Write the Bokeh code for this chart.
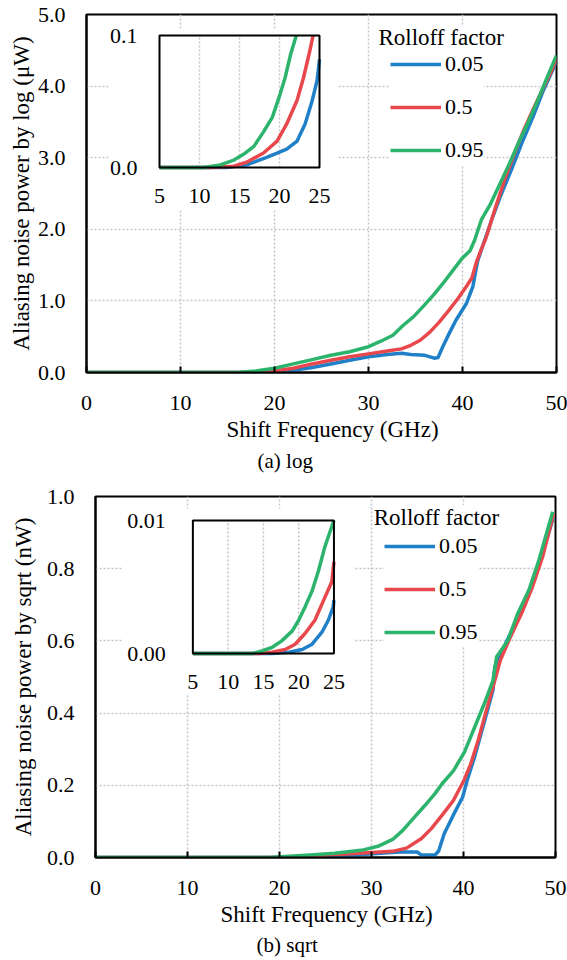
from bokeh.plotting import figure
from bokeh.models import Range1d, FixedTicker, PrintfTickFormatter, Legend, LegendItem, Label, Title
from bokeh.core.properties import value
from bokeh.embed import file_html
from bokeh.resources import INLINE

FONT = "Liberation Serif"

# ---------------- data ----------------
rolloff_labels = ["0.05", "0.5", "0.95"]
colors = ["#1f80c8", "#e8474c", "#2db46c"]

x_ticks = [0, 10, 20, 30, 40, 50]
inset_x_ticks = [5, 10, 15, 20, 25]
inset_x_tick_labels = ["5", "10", "15", "20", "25"]

# (a) log, main chart, power in uW
log_x_005 = [0, 21, 22, 24, 26, 28, 30, 32, 33.5, 34.5, 36, 37, 37.4, 37.9, 38.6, 39.3, 40.4, 41.1, 41.6, 42.1, 43.1, 44, 45.2, 46.3, 47.5, 48.6, 50]
log_y_005 = [0, 0, 0.03, 0.07, 0.12, 0.17, 0.22, 0.25, 0.27, 0.25, 0.24, 0.2, 0.21, 0.36, 0.55, 0.73, 0.96, 1.2, 1.55, 1.75, 2.13, 2.45, 2.83, 3.2, 3.57, 3.94, 4.34]
log_x_05 = [0, 19, 20, 22, 24, 26, 28, 30, 32, 33.5, 34.5, 35.5, 36.5, 37.5, 38.5, 39.5, 40.5, 41, 41.5, 42, 42.5, 43.5, 44.5, 45.5, 46.5, 47.5, 48.5, 49.5, 50]
log_y_05 = [0, 0, 0.02, 0.06, 0.12, 0.17, 0.22, 0.26, 0.3, 0.33, 0.38, 0.45, 0.56, 0.7, 0.86, 1.03, 1.22, 1.32, 1.55, 1.72, 1.88, 2.3, 2.7, 3.05, 3.38, 3.67, 3.95, 4.22, 4.38]
log_x_095 = [0, 16, 18, 20, 22, 24, 26, 28, 30, 31.2, 32.6, 33.7, 34.8, 35.8, 36.9, 37.9, 39, 40, 40.8, 41.3, 42, 43, 44, 45, 46, 47, 48, 49, 50]
log_y_095 = [0, 0, 0.02, 0.06, 0.12, 0.18, 0.24, 0.29, 0.36, 0.43, 0.52, 0.66, 0.78, 0.92, 1.08, 1.24, 1.43, 1.6, 1.7, 1.85, 2.13, 2.36, 2.64, 2.92, 3.22, 3.5, 3.8, 4.12, 4.43]

# (a) log, inset (5-25 GHz)
log_in_x_005 = [5, 13.4, 15.9, 18.4, 20.9, 22.2, 23.2, 24.1, 24.7, 25]
log_in_y_005 = [0, 0, 0.002, 0.0076, 0.014, 0.020, 0.033, 0.051, 0.066, 0.082]
log_in_x_05 = [5, 11.3, 14.3, 15.9, 18, 19.7, 20.9, 22.2, 23, 23.7, 24.2]
log_in_y_05 = [0, 0, 0.001, 0.004, 0.011, 0.020, 0.033, 0.051, 0.068, 0.086, 0.1]
log_in_x_095 = [5, 10.5, 12.6, 14.3, 15.5, 16.8, 18, 19.1, 20.1, 20.7, 21.4, 22.1]
log_in_y_095 = [0, 0, 0.002, 0.0056, 0.010, 0.016, 0.027, 0.038, 0.056, 0.068, 0.086, 0.1]
log_y_ticks = [0, 1, 2, 3, 4, 5]
log_in_y_ticks = [0, 0.1]
log_in_y_tick_labels = ["0.0", "0.1"]

# (b) sqrt, main chart, power in nW
sqrt_x_005 = [0, 26, 29, 33, 35, 35.4, 36.9, 37.3, 37.9, 38.9, 39.9, 40.4, 41.2, 42.2, 43.2, 43.4, 44.4, 45.6, 46.7, 47.9, 49.8]
sqrt_y_005 = [0, 0, 0.008, 0.015, 0.015, 0.007, 0.007, 0.018, 0.066, 0.118, 0.167, 0.214, 0.278, 0.37, 0.463, 0.528, 0.583, 0.648, 0.713, 0.787, 0.944]
sqrt_x_05 = [0, 19.8, 23, 27.2, 30, 32.3, 33.8, 35.4, 36.5, 37.7, 38.9, 40.1, 40.8, 41.6, 42.4, 43.4, 44, 45.1, 46.3, 47.5, 48.6, 49.8]
sqrt_y_05 = [0, 0, 0.004, 0.01, 0.014, 0.017, 0.026, 0.052, 0.08, 0.118, 0.158, 0.216, 0.26, 0.325, 0.4, 0.49, 0.546, 0.611, 0.676, 0.75, 0.833, 0.953]
sqrt_x_095 = [0, 18.8, 23.3, 26, 29.1, 30.7, 32.3, 33.4, 34.6, 35.8, 36.9, 37.7, 38.9, 40.1, 41.2, 42.4, 43.2, 43.6, 44.8, 45.9, 47.1, 48.2, 49.7]
sqrt_y_095 = [0, 0, 0.007, 0.012, 0.021, 0.031, 0.05, 0.075, 0.11, 0.144, 0.177, 0.205, 0.24, 0.292, 0.36, 0.435, 0.49, 0.556, 0.60, 0.676, 0.74, 0.824, 0.958]

# (b) sqrt, inset (5-25 GHz)
sqrt_in_x_005 = [5, 16.2, 18.6, 20.5, 21.9, 23.3, 24.2, 24.9, 25]
sqrt_in_y_005 = [0, 0, 0.0001, 0.0003, 0.0007, 0.0016, 0.0025, 0.0035, 0.004]
sqrt_in_x_05 = [5, 14.4, 16.2, 18.1, 19.5, 20.9, 22.3, 23.7, 24.7, 25]
sqrt_in_y_05 = [0, 0, 0.0001, 0.0003, 0.0007, 0.0015, 0.0025, 0.0042, 0.0054, 0.0069]
sqrt_in_x_095 = [5, 13.4, 14.8, 16.2, 17.6, 19.1, 20, 20.9, 21.9, 22.8, 23.7, 24.4, 25]
sqrt_in_y_095 = [0, 0, 0.0002, 0.00045, 0.00095, 0.0017, 0.0025, 0.0035, 0.0047, 0.0062, 0.008, 0.0091, 0.01]
sqrt_y_ticks = [0, 0.2, 0.4, 0.6, 0.8, 1.0]
sqrt_in_y_ticks = [0, 0.01]
sqrt_in_y_tick_labels = ["0.00", "0.01"]

GRID_COLOR = "#c4c4cc"
GRID_DASH = "2 2"


def build(cfg):
    W, H = 567, 480
    fl, ft, fw, fh = cfg["frame"]
    xr, yr = cfg["xrange"], cfg["yrange"]
    p = figure(width=W, height=H, x_range=Range1d(*xr), y_range=Range1d(*yr),
               output_backend="svg", toolbar_location=None,
               min_border_left=fl, min_border_top=ft,
               min_border_right=W - fl - fw, min_border_bottom=H - ft - fh)
    p.background_fill_color = "white"
    p.border_fill_color = "white"
    p.outline_line_color = "black"
    p.outline_line_width = 2

    def xd(px):
        return xr[0] + (px - fl) / fw * (xr[1] - xr[0])

    def yd(py):
        return yr[0] + (ft + fh - py) / fh * (yr[1] - yr[0])

    # axes
    p.xaxis.ticker = FixedTicker(ticks=x_ticks)
    p.yaxis.ticker = FixedTicker(ticks=cfg["y_ticks"])
    p.yaxis.formatter = PrintfTickFormatter(format=cfg["y_fmt"])
    for ax in (p.xaxis[0], p.yaxis[0]):
        ax.axis_line_color = "black"
        ax.axis_line_width = 2
        ax.major_tick_line_color = "black"
        ax.major_tick_line_width = 2
        ax.minor_tick_line_color = None
        ax.major_label_text_font = FONT
        ax.major_label_text_font_size = "22px"
        ax.major_label_text_color = "black"
    p.xaxis.major_tick_in = 6
    p.xaxis.major_tick_out = 0
    p.xaxis.major_label_standoff = cfg["xlab_standoff"]
    p.yaxis.major_tick_in = 0
    p.yaxis.major_tick_out = 0
    p.yaxis.major_label_standoff = 21

    for g in (p.xgrid[0], p.ygrid[0]):
        g.grid_line_color = GRID_COLOR
        g.grid_line_dash = GRID_DASH
        g.grid_line_width = 1.5

    # y title as a rotated title on the left
    p.add_layout(Title(text=cfg["y_title"], align="center", text_font=FONT,
                       text_font_size="23px", text_font_style="normal", text_color="black",
                       standoff=cfg["ytitle_standoff"]), "left")

    # inset mapping through extra ranges
    il, ir, it, ib = cfg["inset_px"]
    ixr, iyr = cfg["inset_xrange"], cfg["inset_yrange"]
    kx = (ixr[1] - ixr[0]) / (ir - il)
    ky = (iyr[1] - iyr[0]) / (ib - it)
    p.extra_x_ranges = {"ix": Range1d(ixr[0] - (il - fl) * kx, ixr[1] + (fl + fw - ir) * kx)}
    p.extra_y_ranges = {"iy": Range1d(iyr[0] - (ft + fh - ib) * ky, iyr[1] + (it - ft) * ky)}

    def ixd(px):
        return ixr[0] + (px - il) * kx

    def iyd(py):
        return iyr[0] + (ib - py) * ky

    bl, br, bt, bb = cfg["inset_bg_px"]
    p.quad(left=[ixd(bl)], right=[ixd(br)], top=[iyd(bt)], bottom=[iyd(bb)],
           x_range_name="ix", y_range_name="iy", fill_color="white", line_color=None)
    inner = inset_x_ticks[1:-1]
    p.segment(x0=inner, x1=inner, y0=[iyr[0]] * len(inner), y1=[iyr[1]] * len(inner),
              x_range_name="ix", y_range_name="iy", line_color=GRID_COLOR,
              line_dash=GRID_DASH, line_width=1.5)
    for (xs, ys), c in zip(cfg["inset_series"], colors):
        p.line(xs, ys, x_range_name="ix", y_range_name="iy", line_color=c,
               line_width=3.5, line_join="round")
    p.quad(left=[ixr[0]], right=[ixr[1]], bottom=[iyr[0]], top=[iyr[1]],
           x_range_name="ix", y_range_name="iy", fill_color=None,
           line_color="black", line_width=2)
    p.text(x=[ixr[0]] * len(cfg["inset_y_ticks"]), y=cfg["inset_y_ticks"],
           text=cfg["inset_y_tick_labels"], x_range_name="ix", y_range_name="iy",
           x_offset=cfg["inset_ylab_off"], text_align="right", text_baseline="middle",
           text_font=value(FONT), text_font_size=value("22px"), text_color="black")
    p.text(x=inset_x_ticks, y=[iyr[0]] * len(inset_x_ticks), text=inset_x_tick_labels,
           x_range_name="ix", y_range_name="iy", y_offset=28,
           text_align="center", text_baseline="middle",
           text_font=value(FONT), text_font_size=value("22px"), text_color="black")

    # main curves
    rends = []
    for (xs, ys), c in zip(cfg["series"], colors):
        rends.append(p.line(xs, ys, line_color=c, line_width=3.5, line_join="round"))

    # legend
    gl, gt = cfg["legend_px"]
    pad = 6
    item_h = 30
    spacing = 13
    n = len(rends)
    leg_h = n * item_h + (n - 1) * spacing + 2 * pad
    leg_top = gt - item_h / 2 - pad
    legend = Legend(items=[LegendItem(label=lab, renderers=[r]) for lab, r in zip(rolloff_labels, rends)],
                    location=(gl - pad - fl, ft + fh - (leg_top + leg_h)),
                    glyph_width=51, glyph_height=item_h, label_height=item_h,
                    spacing=spacing, padding=pad, margin=0, label_standoff=4,
                    label_text_font=FONT, label_text_font_size="22px", label_text_color="black",
                    background_fill_color="white", background_fill_alpha=1.0,
                    border_line_color=None)
    p.add_layout(legend)
    tx, ty = cfg["legend_title_px"]
    p.add_layout(Label(x=xd(tx), y=yd(ty), text="Rolloff factor", text_align="left",
                       text_baseline="middle", text_font=FONT, text_font_size="23px",
                       text_color="black", background_fill_color="white",
                       background_fill_alpha=1.0))

    # x-axis title and caption as titles below the axis
    p.add_layout(Title(text="Shift Frequency (GHz)", align="left", offset=cfg["xtitle_left"] - fl,
                       text_font=FONT, text_font_size="23px", text_font_style="normal",
                       text_color="black", standoff=cfg["xtitle_standoff"]), "below")
    p.add_layout(Title(text=cfg["caption"], align="left", offset=cfg["caption_left"] - fl,
                       text_font=FONT, text_font_size="21px", text_font_style="normal",
                       text_color="black", standoff=cfg["caption_standoff"]), "below")
    return p


p1 = build(dict(
    frame=(86, 14, 470, 358), xrange=(0, 50), yrange=(0, 5),
    y_ticks=log_y_ticks, y_fmt="%.1f", xlab_standoff=23,
    y_title="Aliasing noise power by log (μW)", ytitle_standoff=2,
    inset_px=(159, 319, 35, 167), inset_xrange=(5, 25), inset_yrange=(0, 0.1),
    inset_bg_px=(108, 338, 28, 210),
    inset_series=[(log_in_x_005, log_in_y_005), (log_in_x_05, log_in_y_05), (log_in_x_095, log_in_y_095)],
    inset_y_ticks=log_in_y_ticks, inset_y_tick_labels=log_in_y_tick_labels, inset_ylab_off=-22,
    series=[(log_x_005, log_y_005), (log_x_05, log_y_05), (log_x_095, log_y_095)],
    legend_px=(396, 58), legend_title_px=(378, 37),
    xtitle_left=226, xtitle_standoff=4, caption_left=257, caption_standoff=6, caption="(a) log",
))

p2 = build(dict(
    frame=(92, 16, 463, 361), xrange=(0, 50), yrange=(0, 1),
    y_ticks=sqrt_y_ticks, y_fmt="%.1f", xlab_standoff=23,
    y_title="Aliasing noise power by sqrt (nW)", ytitle_standoff=16,
    inset_px=(190, 332, 40, 173), inset_xrange=(5, 25), inset_yrange=(0, 0.01),
    inset_bg_px=(119, 352, 28, 213),
    inset_series=[(sqrt_in_x_005, sqrt_in_y_005), (sqrt_in_x_05, sqrt_in_y_05), (sqrt_in_x_095, sqrt_in_y_095)],
    inset_y_ticks=sqrt_in_y_ticks, inset_y_tick_labels=sqrt_in_y_tick_labels, inset_ylab_off=-27,
    series=[(sqrt_x_005, sqrt_y_005), (sqrt_x_05, sqrt_y_05), (sqrt_x_095, sqrt_y_095)],
    legend_px=(387, 60), legend_title_px=(372, 37),
    xtitle_left=217, xtitle_standoff=4, caption_left=253, caption_standoff=5, caption="(b) sqrt",
))

# two independent roots stacked on the page (keeps each frame where it belongs)
open("out.html", "w").write(file_html([p1, p2], INLINE))
